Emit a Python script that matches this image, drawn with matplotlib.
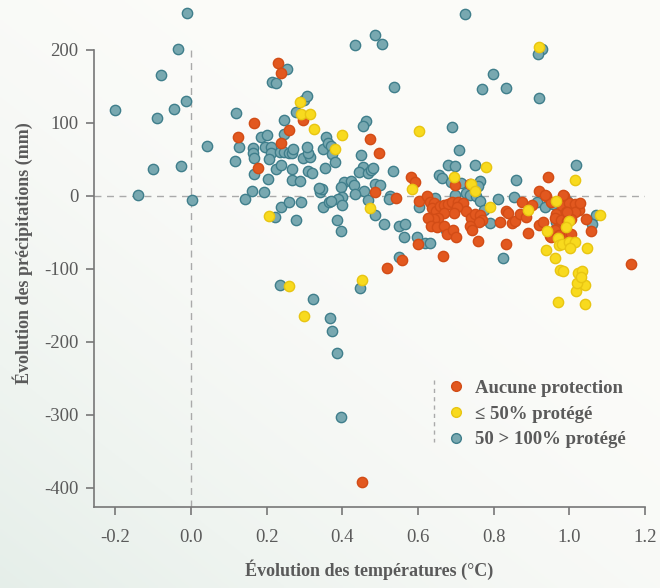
import numpy as np
import matplotlib
matplotlib.use("Agg")
import matplotlib.pyplot as plt
from matplotlib.lines import Line2D

# aucune protection
orange_x = [0.178, 0.124, 0.167, 0.237, 0.26, 0.229, 0.239, 0.297, 0.473, 0.496, 0.582, 0.592,
            0.944, 0.487, 0.541, 0.599, 0.559, 0.517, 0.665, 1.162, 0.451,
            0.604, 0.624, 0.631, 0.642, 0.638, 0.649, 0.657, 0.669, 0.679, 0.689, 0.706, 0.719,
            0.726, 0.703, 0.695, 0.669, 0.654, 0.642, 0.626, 0.634, 0.651, 0.669, 0.677, 0.693,
            0.70, 0.741, 0.751, 0.763, 0.768, 0.761, 0.737, 0.744, 0.76, 0.737, 0.698,
            0.834, 0.839, 0.849, 0.856, 0.87, 0.876, 0.886, 0.89, 0.832, 0.818,
            0.921, 0.938, 0.901, 0.919, 0.93, 0.952, 0.985, 0.981, 1.0, 1.016, 1.025, 1.016,
            1.028, 0.966, 0.99, 0.963, 0.979, 1.004, 0.964, 0.95, 0.984, 1.004, 1.043, 1.058,
            0.952, 0.963, 0.972, 0.993, 0.994, 0.937, 0.983]
orange_y = [38, 80, 99, 72, 90, 182, 168, 104, 78, 58, 26, 19,
            25, 5, -3, -66, -88, -99, -83, -93, -392,
            -7, 0, -8, -10, -17, -21, -14, -13, -12, -9, -9, -10,
            -21, -16, -24, -24, -30, -32, -31, -42, -43, -42, -52, -47,
            -57, -30, -25, -26, -33, -36, -42, -47, -62, 16, 15,
            -21, -24, -38, -35, -25, -9, -29, -51, -66, -36,
            6, 0, -13, -40, -36, -9, 0, -14, -10, -12, -19, -22,
            -10, -25, -22, -31, -33, -32, -46, -55, -54, -52, -32, -49,
            -56, -47, -54, -23, -35, 1, 1]

# <= 50% protege
yellow_x = [0.289, 0.291, 0.315, 0.325, 0.206, 0.258, 0.452, 0.30, 0.969, 1.042, 1.017, 1.041,
            1.021, 0.919, 0.40, 0.602, 0.78, 1.015, 0.585, 0.694, 0.74, 0.752, 0.472, 0.791,
            1.082, 0.892, 0.965, 0.999, 0.99, 0.941, 0.971, 0.972, 0.981, 1.0, 1.014, 1.003,
            1.047, 0.939, 0.961, 0.976, 0.984, 1.022, 1.034, 1.031, 0.38]
yellow_y = [128, 112, 112, 91, -28, -124, -116, -165, -146, -149, -130, -123,
            -119, 203, 83, 89, 39, 21, 9, 25, 16, 6, -17, -15,
            -27, -20, -7, -35, -43, -48, -58, -67, -66, -64, -64, -71,
            -72, -74, -85, -102, -103, -106, -103, -111, 64]

# 50 > 100% protege
teal_x = [-0.01, -0.033, -0.08, -0.2, -0.09, -0.044, -0.012, -0.10, -0.026, -0.14, 0.003, 0.042,
          0.119, 0.126, 0.117, 0.142, 0.162, 0.192, 0.163, 0.164, 0.167, 0.168, 0.184, 0.201,
          0.197, 0.213, 0.213, 0.207, 0.203, 0.224, 0.237, 0.245, 0.246, 0.254, 0.215, 0.224,
          0.236, 0.245, 0.258, 0.266, 0.269, 0.266, 0.266, 0.289, 0.295, 0.31, 0.32, 0.314,
          0.309, 0.306, 0.279, 0.299, 0.308, 0.237, 0.259, 0.29, 0.277, 0.222, 0.349, 0.341,
          0.347, 0.354, 0.35, 0.358, 0.362, 0.37, 0.373, 0.38, 0.364, 0.235, 0.324, 0.446,
          0.367, 0.373, 0.386, 0.398,
          0.725, 0.433, 0.486, 0.505, 0.927, 0.918, 0.798, 0.768, 0.834, 0.92, 0.537, 0.463,
          0.456, 0.691, 0.45, 0.708, 0.454, 0.443, 0.469, 0.475, 0.482, 0.533, 0.75, 1.018,
          0.679, 0.698, 0.858, 0.655, 0.664, 0.688, 0.715, 0.764, 0.759, 0.737, 0.728, 0.737,
          0.754, 0.764, 0.405, 0.424, 0.431, 0.397, 0.486, 0.501, 0.457, 0.433, 0.40, 0.389,
          0.369, 0.40, 0.468, 0.525, 0.523, 0.487, 0.386, 0.398, 0.511, 0.551, 0.565, 0.564,
          0.597, 0.618, 0.632, 0.551, 0.825, 0.603, 0.64, 0.644, 0.774, 0.812, 0.855, 0.791,
          0.675, 0.914, 0.937, 0.956, 0.994, 0.985, 0.964, 1.071, 1.059, 0.698, 0.339]
teal_y = [250, 201, 165, 118, 107, 119, 130, 36, 41, 1, -6, 68,
          113, 67, 48, -5, 6, 5, 65, 58, 52, 30, 80, 83,
          66, 67, 58, 50, 23, 37, 42, 85, 104, 173, 156, 155,
          60, 60, 58, 58, 64, 37, 22, 20, 52, 34, 31, 53,
          59, 67, 115, 131, 137, -15, -8, -8, -33, -29, -16, 5,
          9, 38, 64, 81, 72, 68, 57, 46, -8, -122, -141, -127,
          -168, -185, -216, -303,
          249, 207, 220, 208, 201, 194, 167, 146, 147, 134, 149, 102,
          96, 94, 56, 62, 39, 33, 31, 35, 38, 34, 42, 42,
          42, 40, 21, 28, 24, 19, 18, 20, 13, 9, 3, 1,
          -1, -7, 19, 20, 14, 12, 16, 15, 6, 2, -2, -5,
          -7, -13, -6, 0, -5, -27, -34, -48, -39, -42, -39, -56,
          -56, -65, -65, -84, -86, -15, -7, -3, -20, -5, -2, -38,
          -47, -9, -16, -12, -7, -26, -36, -27, -39, 1, 10]

labels = ["Aucune protection", "\u2264 50% protégé", "50 > 100% protégé"]
faces = ["#E2581F", "#F8DA1E", "#78A8B0"]
edges = ["#D24C16", "#E8C512", "#3F7E8B"]

x_ticks = [-0.2, 0.0, 0.2, 0.4, 0.6, 0.8, 1.0, 1.2]
y_ticks = [-400, -300, -200, -100, 0, 100, 200]

plt.rcParams['font.family'] = ['Liberation Serif', 'DejaVu Serif']
grey = "#5a5a5a"

fig = plt.figure(figsize=(6.6, 5.88), dpi=100)

# soft background gradient
bg = fig.add_axes([0, 0, 1, 1], zorder=-10)
gx, gy = np.meshgrid(np.linspace(0, 1, 200), np.linspace(0, 1, 200))
c1 = np.array([0.985, 0.985, 0.975])
c2 = np.array([0.90, 0.935, 0.915])
w = np.clip(1 - (gx * 0.7 + gy * 0.8), 0, 1)[..., None] ** 1.6
img = c1 * (1 - w) + c2 * w
bg.imshow(img, extent=[0, 1, 0, 1], origin="lower", aspect="auto")
bg.axis("off")

ax = fig.add_axes([94 / 660, 1 - 506.7 / 588, (645 - 94) / 660, 506.7 / 588])
ax.patch.set_alpha(0)
ax.set_xlim(-0.256, 1.2)
ax.set_ylim(-426, 268)

ax.plot([0, 0], [-426, 200], color="#aaaaaa", lw=1, dashes=(5, 4), zorder=1)
ax.plot([-0.256, 1.2], [0, 0], color="#aaaaaa", lw=1, dashes=(5, 4), zorder=1)

series = [(orange_x, orange_y), (yellow_x, yellow_y), (teal_x, teal_y)]
for i in [2, 0, 1]:
    sx, sy = series[i]
    ax.scatter(sx, sy, s=55, c=faces[i], edgecolors=edges[i], linewidths=1.0,
               zorder=3, clip_on=False)

for s in ["top", "right"]:
    ax.spines[s].set_visible(False)
ax.spines["left"].set_bounds(-426, 200)
ax.spines["bottom"].set_bounds(-0.256, 1.2)
for s in ["left", "bottom"]:
    ax.spines[s].set_color("#777777")
    ax.spines[s].set_linewidth(1.2)

ax.set_xticks(x_ticks)
ax.set_xticklabels([f"{v:.1f}" for v in x_ticks])
ax.set_yticks(y_ticks)
ax.set_yticklabels([str(v) for v in y_ticks])
ax.tick_params(direction="out", length=6, width=1.2, color="#777777",
               labelcolor=grey, labelsize=13.5)
ax.tick_params(axis="x", pad=10)
ax.tick_params(axis="y", pad=5)

ax.set_xlabel("Évolution des températures (°C)", fontsize=13, fontweight="bold",
              color=grey, labelpad=10)
ax.set_ylabel("Évolution des précipitations (mm)", fontsize=13, fontweight="bold",
              color=grey, labelpad=8)

handles = [Line2D([], [], marker="o", ls="none", markersize=7, markerfacecolor=faces[i],
                  markeredgecolor=edges[i], markeredgewidth=1) for i in range(3)]
leg = fig.legend(handles, labels, loc="upper left", bbox_to_anchor=(428 / 660, 1 - 363 / 588),
                 frameon=False, handletextpad=0.4, labelspacing=0.45, handlelength=1.2,
                 prop={"size": 13.5, "weight": "bold"})
for t in leg.get_texts():
    t.set_color(grey)
fig.add_artist(Line2D([434 / 660, 434 / 660], [1 - 380 / 588, 1 - 442 / 588],
                      color="#aaaaaa", lw=1, dashes=(3, 3)))

fig.savefig("out.png", dpi=100)
